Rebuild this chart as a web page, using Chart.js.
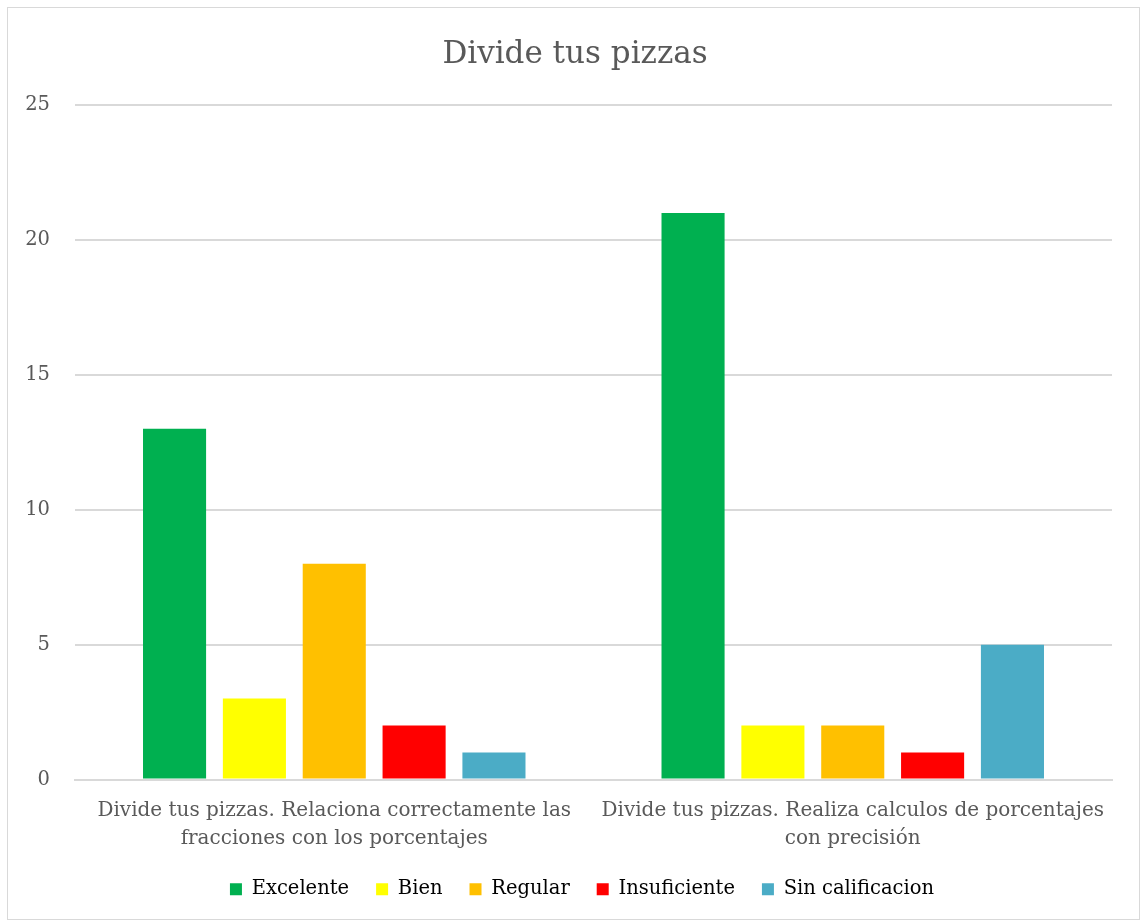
<html><head><title>Divide tus pizzas</title>
<script src="https://cdn.jsdelivr.net/npm/chart.js"></script>
<style>
  body {
    margin: 0;
    background: white;
  }
  #frame {
    position: absolute;
    left: 7px;
    top: 7px;
    width: 1131px;
    height: 911px;
    border: 1px solid #d9d9d9;
  }
  #wrap {
    position: absolute;
    left: 0;
    top: 0;
    width: 1141px;
    height: 923px;
  }
</style>
</head>
<body>
<div id="frame"></div>
<div id="wrap">
  <canvas id="pizzaChart" width="1141" height="923"></canvas>
</div>

<script>
// categories (two lines each) and one value per category for every rating
const categories = [
  ['Divide tus pizzas. Relaciona correctamente las', 'fracciones con los porcentajes'],
  ['Divide tus pizzas. Realiza calculos de porcentajes', 'con precisión']
];
const excelente = [13, 21];
const bien = [3, 2];
const regular = [8, 2];
const insuficiente = [2, 1];
const sinCalificacion = [1, 5];

const seriesNames = ['Excelente', 'Bien', 'Regular', 'Insuficiente', 'Sin calificacion'];
const seriesColors = ['#00b050', '#ffff00', '#ffc000', '#ff0000', '#4bacc6'];
const seriesValues = [excelente, bien, regular, insuficiente, sinCalificacion];

const serif = "'DejaVu Serif', 'Liberation Serif', serif";
const grey = '#595959';

// title and legend sit centred on the whole canvas, not on the padded box
const recentre = {
  id: 'recentre',
  afterLayout(chart) {
    chart.titleBlock.left += 19;
    chart.titleBlock.right += 19;
    chart.legend.left += 26;
    chart.legend.right += 26;
  }
};

const ctx = document.getElementById('pizzaChart').getContext('2d');

new Chart(ctx, {
  type: 'bar',
  data: {
    labels: categories,
    datasets: seriesNames.map((name, i) => ({
      label: name,
      data: seriesValues[i],
      backgroundColor: seriesColors[i],
      borderWidth: 0,
      barPercentage: 0.79,
      categoryPercentage: 0.77
    }))
  },
  options: {
    responsive: false,
    animation: false,
    devicePixelRatio: 1,
    layout: {
      padding: { left: 0, right: 29, top: 0, bottom: 14 }
    },
    plugins: {
      title: {
        display: true,
        text: 'Divide tus pizzas',
        color: grey,
        font: { family: serif, size: 31, weight: 'normal' },
        padding: { top: 36, bottom: 32 }
      },
      legend: {
        position: 'bottom',
        labels: {
          color: '#000000',
          font: { family: serif, size: 19.5 },
          boxWidth: 12,
          boxHeight: 12,
          padding: 27
        }
      },
      tooltip: { enabled: false }
    },
    scales: {
      x: {
        grid: { display: false, drawTicks: false },
        border: { display: true, color: '#d9d9d9', width: 2 },
        ticks: {
          color: grey,
          font: { family: serif, size: 20, lineHeight: 1.4 },
          padding: 17,
          maxRotation: 0,
          autoSkip: false
        },
        afterFit: (scale) => { scale.height = 73; }
      },
      y: {
        min: 0,
        max: 25,
        grid: { color: '#d9d9d9', lineWidth: 2, drawTicks: false },
        border: { display: false },
        ticks: {
          stepSize: 5,
          color: grey,
          font: { family: serif, size: 19.5 },
          padding: 25
        },
        afterFit: (scale) => { scale.width = 75; }
      }
    }
  },
  plugins: [recentre]
});
</script>
</body></html>
